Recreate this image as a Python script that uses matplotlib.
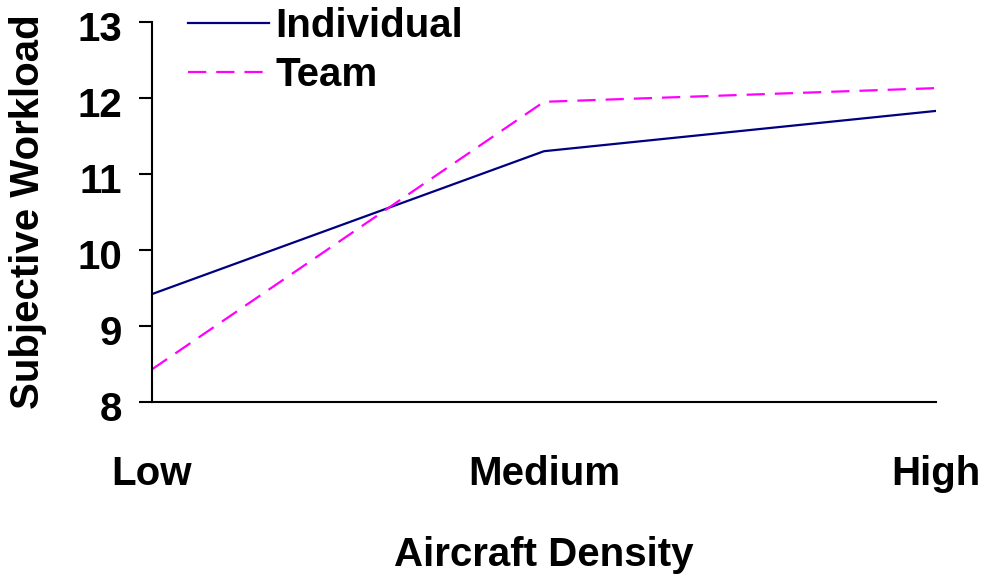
import matplotlib.pyplot as plt
import matplotlib.transforms as mtransforms

plt.rcParams['font.family'] = ['Liberation Sans', 'DejaVu Sans']
plt.rcParams['font.weight'] = 'bold'

# data
categories = ['Low', 'Medium', 'High']
individual = [9.42, 11.30, 11.83]
team = [8.43, 11.95, 12.13]

fig = plt.figure(figsize=(9.86, 5.75), dpi=100)
ax = fig.add_axes([152 / 986, 1 - 402 / 575, (936 - 152) / 986, (402 - 22) / 575])

x = range(len(categories))
ax.plot(x, individual, color='#000080', lw=1.6, label='Individual')
ax.plot(x, team, color='#ff00ff', lw=1.6, dashes=(8.2, 4.5), label='Team')

ax.set_xlim(0, 2)
ax.set_ylim(8, 13)
ax.set_yticks([8, 9, 10, 11, 12, 13])
ax.set_xticks(list(x))
ax.set_xticklabels(categories)

ax.spines['top'].set_visible(False)
ax.spines['right'].set_visible(False)
ax.spines['left'].set_linewidth(1.5)
ax.spines['bottom'].set_linewidth(1.5)

ax.tick_params(axis='y', length=9.5, width=1.5, labelsize=29, pad=12)
ax.tick_params(axis='x', length=0, labelsize=29, pad=38)

# y labels sit a little below their ticks in the original
shift = mtransforms.ScaledTranslation(0, -4 / 100, fig.dpi_scale_trans)
for lbl in ax.get_yticklabels():
    lbl.set_transform(lbl.get_transform() + shift)

ax.set_xlabel('Aircraft Density', fontsize=29, fontweight='bold', labelpad=31)
ax.set_ylabel('Subjective Workload', fontsize=29, fontweight='bold', labelpad=22)

fig.legend(loc='upper left', bbox_to_anchor=(188 / 986, 1 - 7 / 575),
           frameon=False, fontsize=29, handlelength=2.02, handletextpad=0.15,
           labelspacing=0.28, borderpad=0, borderaxespad=0)

fig.savefig('out.png', dpi=100)
